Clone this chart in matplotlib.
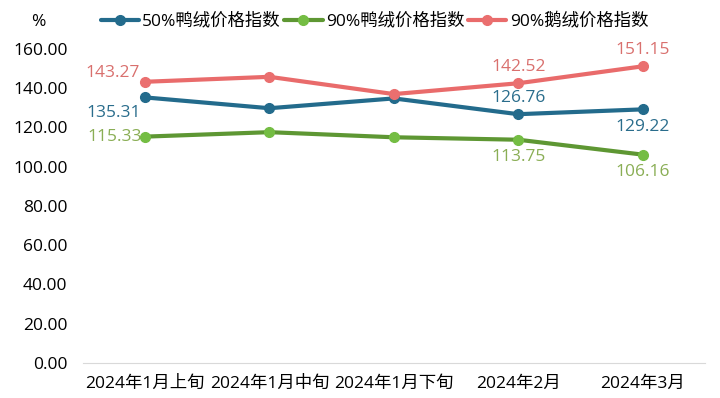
import matplotlib.pyplot as plt

plt.rcParams['font.family'] = ['Open Sans', 'Noto Sans CJK SC', 'DejaVu Sans']

categories = ['2024年1月上旬', '2024年1月中旬', '2024年1月下旬', '2024年2月', '2024年3月']
duck50 = [135.31, 129.8, 134.8, 126.76, 129.22]
duck90 = [115.33, 117.6, 115.0, 113.75, 106.16]
goose90 = [143.27, 145.8, 137.0, 142.52, 151.15]
yticks = [0, 20, 40, 60, 80, 100, 120, 140, 160]

fig = plt.figure(figsize=(7.2, 3.98), dpi=100)
ax = fig.add_axes([0.115, 0.088, 0.864, 0.789])

x = range(len(categories))
series = [
    ('50%鸭绒价格指数', duck50, '#236b8c', '#236b8c', '#2a6d8c'),
    ('90%鸭绒价格指数', duck90, '#5e9733', '#74bd43', '#8aae55'),
    ('90%鹅绒价格指数', goose90, '#e96b6b', '#ea6f6f', '#d9706e'),
]
for name, vals, lc, mc, tc in series:
    ax.plot(x, vals, color=lc, lw=3, marker='o', ms=7, mfc=mc, mec=mc,
            label=name, solid_capstyle='round')

# data labels (index, dx, dy, ha, va) in points
label_pos = {
    0: [(0, -3, -11, 'right', 'center'), (3, 0, 6, 'center', 'bottom'),
        (4, 0, -7, 'center', 'top')],
    1: [(0, -2, 0, 'right', 'center'), (3, 0, -7, 'center', 'top'),
        (4, 0, -7, 'center', 'top')],
    2: [(0, -4, 6, 'right', 'center'), (3, 0, 6, 'center', 'bottom'),
        (4, 0, 6, 'center', 'bottom')],
}
for k, (name, vals, lc, mc, tc) in enumerate(series):
    for i, dx, dy, ha, va in label_pos[k]:
        ax.annotate('%.2f' % vals[i], (i, vals[i]), xytext=(dx, dy),
                    textcoords='offset points', ha=ha, va=va,
                    fontsize=12.5, color=tc)

ax.set_xlim(-0.5, 4.5)
ax.set_ylim(0, 160)
ax.set_xticks(list(x))
ax.set_xticklabels(categories, fontsize=12.5)
ax.set_yticks(yticks)
ax.set_yticklabels(['%.2f' % v for v in yticks], fontsize=12.5)
ax.tick_params(axis='y', length=0, pad=11)
ax.tick_params(axis='x', length=0, pad=9)
for s in ['top', 'right', 'left']:
    ax.spines[s].set_visible(False)
ax.spines['bottom'].set_color('#d9d9d9')

fig.text(0.053, 0.945, '%', fontsize=12.5, ha='center', va='center')
fig.legend(loc='center', bbox_to_anchor=(0.52, 0.945), ncol=3, frameon=False,
           fontsize=12.5, handlelength=2.2, columnspacing=0.2, handletextpad=0.2,
           borderaxespad=0)

fig.savefig('out.png', dpi=100)
